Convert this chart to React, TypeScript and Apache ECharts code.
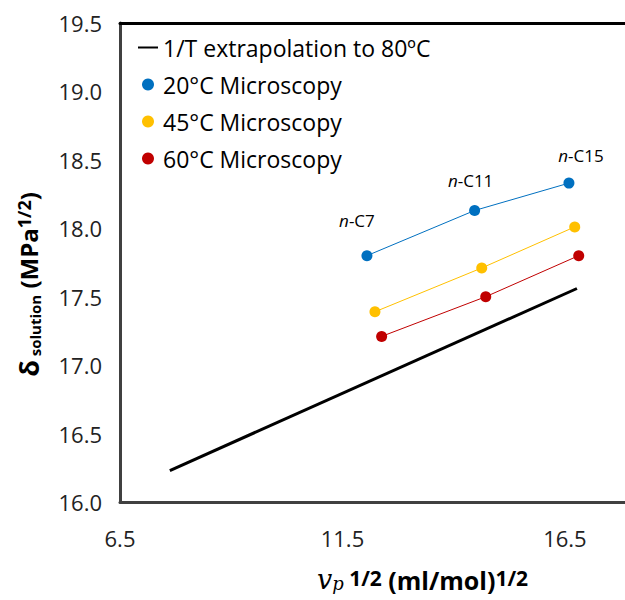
import React, { useEffect, useRef } from "react";
import * as echarts from "echarts";

const X_TICKS = [6.5, 11.5, 16.5];
const Y_TICKS = [16.0, 16.5, 17.0, 17.5, 18.0, 18.5, 19.0, 19.5];

const EXTRAP_NAME = "1/T extrapolation to 80ºC";
const EXTRAP_X = [7.62, 16.77];
const EXTRAP_Y = [16.23, 17.56];

const S20_NAME = "20°C Microscopy";
const S20_X = [12.05, 14.47, 16.59];
const S20_Y = [17.8, 18.13, 18.33];

const S45_NAME = "45°C Microscopy";
const S45_X = [12.23, 14.63, 16.72];
const S45_Y = [17.39, 17.71, 18.01];

const S60_NAME = "60°C Microscopy";
const S60_X = [12.38, 14.72, 16.81];
const S60_Y = [17.21, 17.5, 17.8];

const POINT_LABELS = ["C7", "C11", "C15"];

const FONT = "Open Sans";
const X_MIN = 6.5;
const X_MAX = 17.85;

function pairs(xs: number[], ys: number[]) {
  return xs.map((x, i) => [x, ys[i]]);
}

export default function App() {
  const ref = useRef<HTMLDivElement>(null);
  useEffect(() => {
    if (!ref.current) return;
    const chart = echarts.init(ref.current, undefined, { renderer: "svg" });
    const labelOffsets = [
      [-10, -16],
      [-4, -11],
      [12, -9],
    ];
    const blueData = pairs(S20_X, S20_Y).map((p, i) => ({
      value: p,
      label: {
        show: true,
        position: "top",
        offset: labelOffsets[i],
        formatter: "{i|n}-" + POINT_LABELS[i],
        fontFamily: FONT,
        fontSize: 17,
        color: "#000",
        rich: { i: { fontStyle: "italic", fontFamily: FONT, fontSize: 17, color: "#000" } },
      },
    }));
    const markerSeries = (name: string, color: string, data: any) => ({
      name,
      type: "line",
      data,
      symbol: "circle",
      symbolSize: 11,
      showSymbol: true,
      itemStyle: { color },
      lineStyle: { color, width: 1 },
      z: 3,
    });
    chart.setOption({
      animation: false,
      grid: { left: 120, right: 0, top: 23, bottom: 98, outerBoundsMode: "none", containLabel: false },
      legend: {
        orient: "vertical",
        left: 132,
        top: 31,
        itemWidth: 20,
        itemHeight: 12,
        itemGap: 14,
        textStyle: { fontFamily: FONT, fontSize: 23, color: "#000" },
        data: [
          { name: EXTRAP_NAME, itemStyle: { color: "rgba(0,0,0,0)", borderWidth: 0 }, lineStyle: { color: "#000", width: 2 } },
          { name: S20_NAME, icon: "circle" },
          { name: S45_NAME, icon: "circle" },
          { name: S60_NAME, icon: "circle" },
        ],
      },
      xAxis: [
        {
          type: "value",
          min: X_MIN,
          max: X_MAX,
          interval: 5,
          splitLine: { show: false },
          axisTick: { show: false },
          axisLine: { show: true, lineStyle: { color: "#404040", width: 3 } },
          axisLabel: {
            margin: 25,
            fontFamily: FONT,
            fontSize: 22,
            color: "#222",
            showMaxLabel: false,
            formatter: (v: number) => (X_TICKS.some((t) => Math.abs(t - v) < 1e-6) ? v.toFixed(1) : ""),
          },
          name: "{v|v}{p|p}{sup| 1/2}{m| (ml/mol)}{sup|1/2}",
          nameLocation: "middle",
          nameGap: 65,
          nameTextStyle: {
            padding: [0, 0, 0, 100],
            rich: {
              v: { fontFamily: "DejaVu Serif", fontStyle: "italic", fontSize: 27, lineHeight: 25, color: "#000" },
              p: { fontFamily: "DejaVu Serif", fontStyle: "italic", fontSize: 18, lineHeight: 16, color: "#000", verticalAlign: "bottom" },
              sup: { fontFamily: FONT, fontWeight: "bold", fontSize: 21, lineHeight: 18, color: "#000", verticalAlign: "top" },
              m: { fontFamily: FONT, fontWeight: "bold", fontSize: 25, lineHeight: 25, color: "#000" },
            },
          },
        },
        {
          type: "value",
          position: "top",
          min: X_MIN,
          max: X_MAX,
          interval: 5,
          splitLine: { show: false },
          axisTick: { show: false },
          axisLabel: { show: false },
          axisLine: { show: true, lineStyle: { color: "#000", width: 3 } },
        },
      ],
      yAxis: {
        type: "value",
        min: 16,
        max: 19.5,
        interval: 0.5,
        splitLine: { show: false },
        axisTick: { show: false },
        axisLine: { show: true, lineStyle: { color: "#404040", width: 3 } },
        axisLabel: {
          margin: 18,
          fontFamily: FONT,
          fontSize: 22,
          color: "#222",
          formatter: (v: number) => (Y_TICKS.some((t) => Math.abs(t - v) < 1e-6) ? v.toFixed(1) : ""),
        },
        name: "{d|δ}{sub| solution}{m| (MPa}{sup|1/2}{m|)}",
        nameLocation: "middle",
        nameGap: 78,
        nameTextStyle: {
          padding: [0, 44, 0, 0],
          rich: {
            d: { fontFamily: FONT, fontWeight: "bold", fontSize: 27, color: "#000" },
            sub: { fontFamily: FONT, fontWeight: "bold", fontSize: 15, color: "#000", verticalAlign: "bottom" },
            sup: { fontFamily: FONT, fontWeight: "bold", fontSize: 18, color: "#000", verticalAlign: "top" },
            m: { fontFamily: FONT, fontWeight: "bold", fontSize: 24, color: "#000" },
          },
        },
      },
      series: [
        {
          name: EXTRAP_NAME,
          type: "line",
          data: pairs(EXTRAP_X, EXTRAP_Y),
          symbol: "none",
          itemStyle: { color: "#000" },
          lineStyle: { color: "#000", width: 3 },
          z: 2,
        },
        markerSeries(S20_NAME, "#0070C0", blueData),
        markerSeries(S45_NAME, "#FFC000", pairs(S45_X, S45_Y)),
        markerSeries(S60_NAME, "#C00000", pairs(S60_X, S60_Y)),
      ],
    });
    return () => chart.dispose();
  }, []);
  return (
    <div
      ref={ref}
      style={{ position: "absolute", left: 0, top: 0, width: 625, height: 600, background: "#fff" }}
    />
  );
}
